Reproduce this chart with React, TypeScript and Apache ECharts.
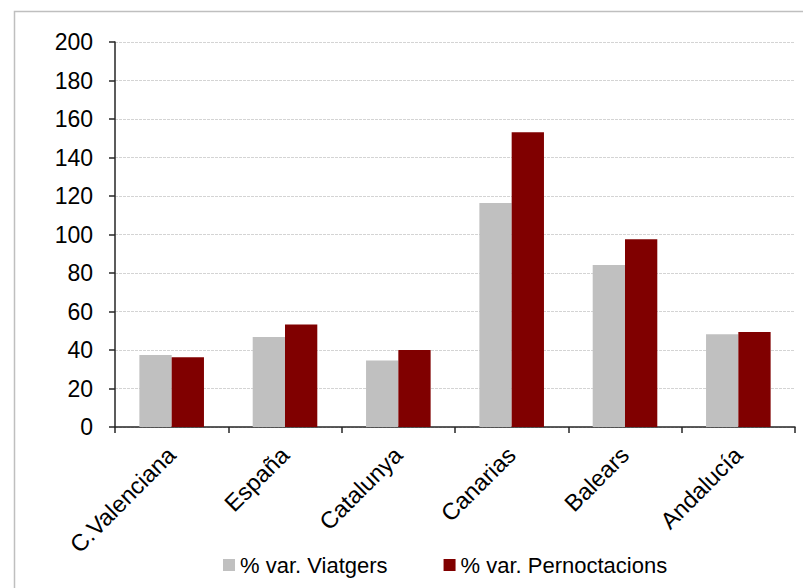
import React, { useEffect, useRef } from "react";
import * as echarts from "echarts";

const categories = ["C.Valenciana", "España", "Catalunya", "Canarias", "Balears", "Andalucía"];
const viatgers = [37.4, 46.8, 34.6, 116.4, 84.2, 48.2];
const pernoctacions = [36.2, 53.3, 40.0, 153.1, 97.5, 49.3];
const seriesNames = ["% var. Viatgers", "% var. Pernoctacions"];
const yTicks = { min: 0, max: 200, interval: 20 };

export default function App() {
  const ref = useRef<HTMLDivElement>(null);
  useEffect(() => {
    if (!ref.current) return;
    const chart = echarts.init(ref.current, null, { renderer: "svg" });
    const font = "Arial, 'Liberation Sans', sans-serif";
    chart.setOption({
      animation: false,
      backgroundColor: "#ffffff",
      textStyle: { fontFamily: font },
      graphic: [
        {
          type: "rect",
          shape: { x: 14.5, y: 11.5, width: 820, height: 620 },
          style: { fill: "none", stroke: "#bfbfbf", lineWidth: 1.5 },
          silent: true,
        },
      ],
      grid: { left: 115, right: 8, top: 42, bottom: 161, containLabel: false },
      legend: {
        data: seriesNames,
        left: 218,
        top: 549,
        itemWidth: 12,
        itemHeight: 12,
        itemGap: 56,
        icon: "rect",
        textStyle: { fontSize: 22, color: "#000", fontFamily: font },
      },
      xAxis: {
        type: "category",
        data: categories,
        axisLine: { lineStyle: { color: "#262626", width: 1.5 } },
        axisTick: { show: true, length: 6, lineStyle: { color: "#262626", width: 1.5 } },
        axisLabel: {
          rotate: 45,
          fontSize: 23.5,
          color: "#000",
          margin: 24,
          fontFamily: font,
        },
      },
      yAxis: {
        type: "value",
        min: yTicks.min,
        max: yTicks.max,
        interval: yTicks.interval,
        axisLine: { show: true, lineStyle: { color: "#262626", width: 1.5 } },
        axisTick: { show: true, length: 6, lineStyle: { color: "#262626", width: 1.5 } },
        axisLabel: { fontSize: 23, color: "#000", margin: 22, fontFamily: font },
        splitLine: { show: true, lineStyle: { color: "#d4d4d4", type: [3, 1], width: 1 } },
      },
      series: [
        {
          name: seriesNames[0],
          type: "bar",
          data: viatgers,
          itemStyle: { color: "#c0c0c0" },
          barGap: "0%",
          barCategoryGap: "43%",
        },
        {
          name: seriesNames[1],
          type: "bar",
          data: pernoctacions,
          itemStyle: { color: "#800000" },
          barGap: "0%",
          barCategoryGap: "43%",
        },
      ],
    });
    return () => chart.dispose();
  }, []);
  return (
    <div
      ref={ref}
      style={{ position: "fixed", left: 0, top: 0, width: 803, height: 588 }}
    />
  );
}
